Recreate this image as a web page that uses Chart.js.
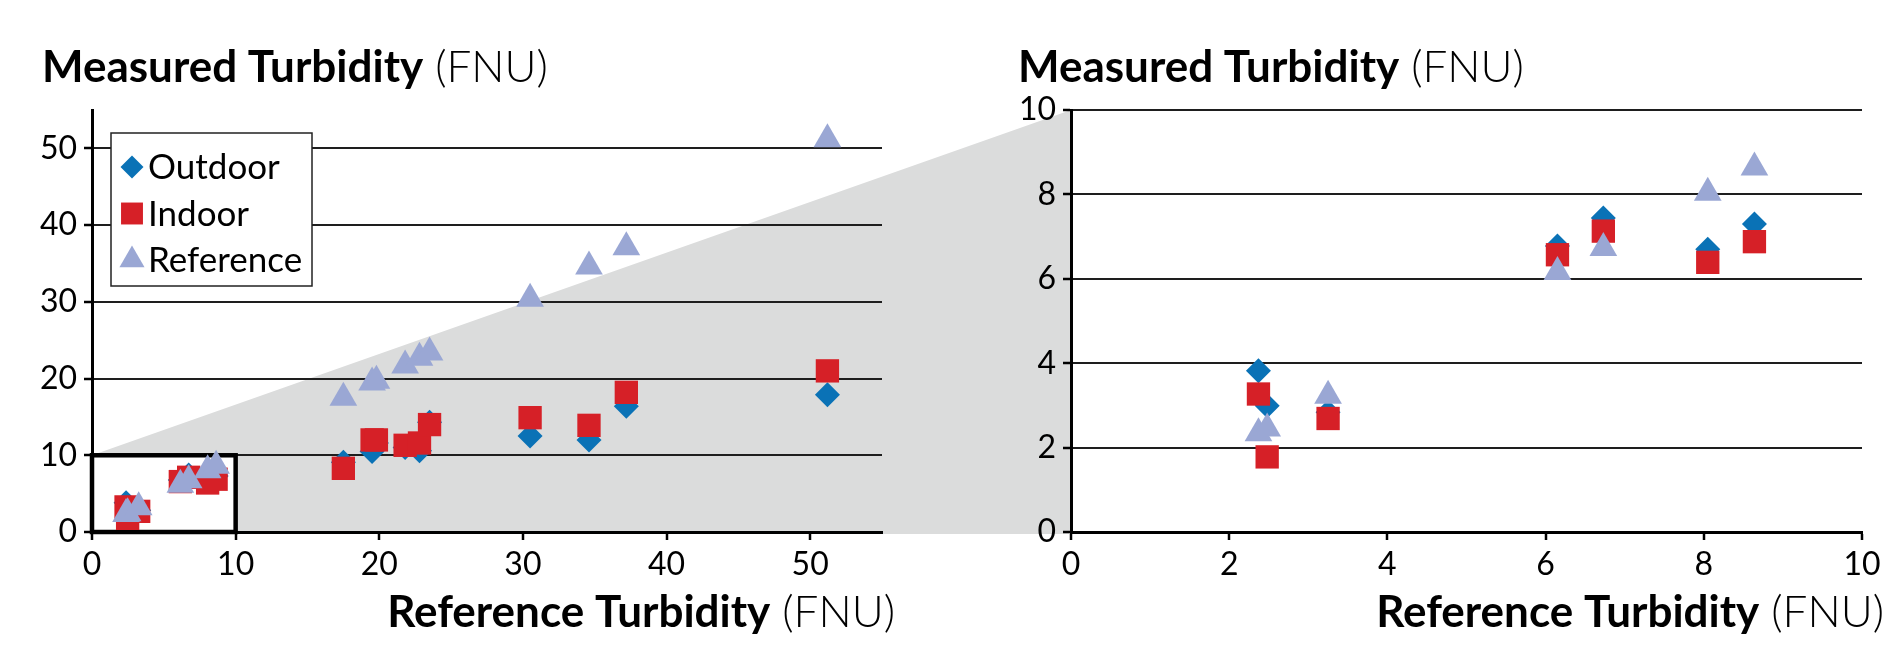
<!DOCTYPE html>
<html>
<head>
<meta charset="utf-8">
<title>Measured vs Reference Turbidity</title>
<script src="https://cdn.jsdelivr.net/npm/chart.js@4.4.1/dist/chart.umd.min.js"></script>
<style>
  html, body { margin: 0; padding: 0; background: #fff; }
  #wrap { position: relative; width: 1888px; height: 649px; overflow: hidden; }
  #wrap canvas { position: absolute; top: 0; }
  #leftChart { left: 0; }
  #rightChart { left: 960px; }
</style>
</head>
<body>
<div id="wrap">
  <canvas id="leftChart" width="1090" height="649"></canvas>
  <canvas id="rightChart" width="928" height="649"></canvas>
</div>
<script>
// reference turbidity of each sample (FNU) - x values
var refTurbidity = [2.37, 2.48, 3.25, 6.15, 6.73, 8.05, 8.64, 17.5, 19.5, 19.8, 21.8, 22.8, 23.5, 30.5, 34.6, 37.2, 51.2];
// measured turbidity per sensor (FNU)
var outdoorValues = [3.82, 2.99, 2.84, 6.78, 7.44, 6.70, 7.30, 9.1, 10.5, 11.6, 11.0, 10.6, 14.3, 12.5, 12.0, 16.4, 17.9];
var indoorValues = [3.27, 1.78, 2.69, 6.57, 7.13, 6.39, 6.88, 8.3, 12.0, 12.0, 11.3, 11.6, 14.0, 14.9, 13.9, 18.2, 21.0];
var referenceValues = [2.34, 2.45, 3.23, 6.16, 6.73, 8.04, 8.64, 17.5, 19.5, 19.7, 21.7, 22.7, 23.4, 30.4, 34.6, 37.1, 51.2];

var seriesNames = ['Outdoor', 'Indoor', 'Reference'];
var leftTicks = [0, 10, 20, 30, 40, 50];
var rightTicks = [0, 2, 4, 6, 8, 10];
var leftMax = 55;
var zoomMax = 10;

var yTitle = ['Measured Turbidity', ' (FNU)'];
var xTitle = ['Reference Turbidity', ' (FNU)'];

var FONT = 'Lato';
var TITLE_SIZE = 44;

function toPoints(values) {
    return values.map(function (v, i) {
        return { x: refTurbidity[i], y: v };
    });
}

function makeDatasets() {
    return [{
        label: seriesNames[0],
        data: toPoints(outdoorValues),
        pointStyle: 'rectRot',
        pointRadius: 12.5,
        backgroundColor: '#0a72b6',
        order: 3
    }, {
        label: seriesNames[1],
        data: toPoints(indoorValues),
        pointStyle: 'rect',
        pointRadius: 16.5,
        backgroundColor: '#d62027',
        order: 2
    }, {
        label: seriesNames[2],
        data: toPoints(referenceValues),
        pointStyle: 'triangle',
        pointRadius: 16,
        backgroundColor: '#9aa7d4',
        order: 1
    }].map(function (ds) {
        ds.borderWidth = 0;
        ds.pointBorderWidth = 0;
        ds.pointHoverRadius = ds.pointRadius;
        ds.showLine = false;
        return ds;
    });
}

function axis(max, tickList, withGrid, size, isY) {
    return {
        type: 'linear',
        min: 0,
        max: max,
        border: { display: true, color: '#000', width: 3 },
        grid: {
            drawOnChartArea: withGrid,
            color: '#1e1e1e',
            lineWidth: 2,
            tickLength: 8,
            tickColor: '#000',
            tickWidth: 2.5
        },
        ticks: {
            color: '#000',
            font: { family: FONT, size: 32 },
            padding: isY ? 7 : 5,
            maxRotation: 0
        },
        afterBuildTicks: function (scale) {
            scale.ticks = tickList.map(function (v) { return { value: v }; });
        },
        afterFit: function (scale) {
            if (isY) scale.width = size; else scale.height = size;
        }
    };
}

function drawTwoPart(ctx, parts, x, y, align) {
    ctx.font = 'bold ' + TITLE_SIZE + 'px ' + FONT;
    var w1 = ctx.measureText(parts[0]).width;
    ctx.font = '300 ' + TITLE_SIZE + 'px ' + FONT;
    var w2 = ctx.measureText(parts[1]).width;
    var start = align === 'right' ? x - w1 - w2 : x;
    ctx.textAlign = 'left';
    ctx.textBaseline = 'alphabetic';
    ctx.fillStyle = '#000';
    ctx.font = 'bold ' + TITLE_SIZE + 'px ' + FONT;
    ctx.fillText(parts[0], start, y);
    ctx.font = '300 ' + TITLE_SIZE + 'px ' + FONT;
    ctx.fillText(parts[1], start + w1, y);
}

var titlesPlugin = {
    id: 'axisTitles',
    afterDraw: function (chart, args, opts) {
        var ctx = chart.ctx;
        var area = chart.chartArea;
        ctx.save();
        drawTwoPart(ctx, yTitle, area.left + opts.yDx, area.top - 28, 'left');
        drawTwoPart(ctx, xTitle, area.right + opts.xDx, 627, 'right');
        ctx.restore();
    }
};

// fallback in case helpers are not exposed
function drawMarker(ctx, style, r, x, y) {
    if (Chart.helpers && Chart.helpers.drawPoint) {
        Chart.helpers.drawPoint(ctx, { pointStyle: style, radius: r, rotation: 0, borderWidth: 0 }, x, y);
        return;
    }
    ctx.beginPath();
    if (style === 'rect') {
        var s = r * Math.SQRT1_2;
        ctx.rect(x - s, y - s, 2 * s, 2 * s);
    } else if (style === 'rectRot') {
        ctx.moveTo(x, y - r); ctx.lineTo(x + r, y); ctx.lineTo(x, y + r); ctx.lineTo(x - r, y);
    } else {
        ctx.moveTo(x, y - r);
        ctx.lineTo(x + r * 0.866, y + r / 2);
        ctx.lineTo(x - r * 0.866, y + r / 2);
    }
    ctx.closePath();
    ctx.fill();
}

var legendPlugin = {
    id: 'boxLegend',
    afterDraw: function (chart) {
        var ctx = chart.ctx;
        var area = chart.chartArea;
        var left = area.left + 19, top = area.top + 23;
        var radii = [11.5, 15.5, 14.5];
        ctx.save();
        ctx.fillStyle = '#fff';
        ctx.strokeStyle = '#222';
        ctx.lineWidth = 1.5;
        ctx.fillRect(left, top, 201, 153);
        ctx.strokeRect(left, top, 201, 153);
        chart.data.datasets.forEach(function (ds, i) {
            var cy = top + 34 + i * 46.5;
            ctx.fillStyle = ds.backgroundColor;
            drawMarker(ctx, ds.pointStyle, radii[i], left + 21, cy);
            ctx.fillStyle = '#000';
            ctx.font = '35px ' + FONT;
            ctx.textAlign = 'left';
            ctx.textBaseline = 'middle';
            ctx.fillText(ds.label, left + 37, cy + 1);
        });
        ctx.restore();
    }
};

document.addEventListener('DOMContentLoaded', function () {
    var leftCanvas = document.getElementById('leftChart');
    var rightCanvas = document.getElementById('rightChart');

    // zoomed 0-10 panel
    var rightChart = new Chart(rightCanvas, {
        type: 'scatter',
        data: { datasets: makeDatasets() },
        options: {
            responsive: false,
            animation: false,
            events: [],
            layout: { padding: { left: 0, top: 110, right: 26, bottom: 57 } },
            scales: {
                x: axis(zoomMax, rightTicks, false, 60, false),
                y: axis(zoomMax, rightTicks, true, 111, true)
            },
            plugins: {
                legend: { display: false },
                tooltip: { enabled: false },
                axisTitles: { yDx: -53, xDx: 22 }
            }
        },
        plugins: [titlesPlugin]
    });

    // shaded wedge from the 0-10 box to the zoomed panel, plus the box
    var zoomPlugin = {
        id: 'zoomWedge',
        beforeDraw: function (chart) {
            var ctx = chart.ctx;
            var xs = chart.scales.x, ys = chart.scales.y;
            var ra = rightChart.chartArea;
            var off = rightCanvas.offsetLeft - leftCanvas.offsetLeft;
            ctx.save();
            ctx.fillStyle = '#dbdcdc';
            ctx.beginPath();
            ctx.moveTo(xs.getPixelForValue(0), ys.getPixelForValue(zoomMax));
            ctx.lineTo(off + ra.left, ra.top);
            ctx.lineTo(off + ra.left, ra.bottom + 2);
            ctx.lineTo(xs.getPixelForValue(zoomMax), ys.getPixelForValue(0) + 2);
            ctx.lineTo(xs.getPixelForValue(zoomMax), ys.getPixelForValue(zoomMax));
            ctx.closePath();
            ctx.fill();
            ctx.restore();
        },
        beforeDatasetsDraw: function (chart) {
            var ctx = chart.ctx;
            var xs = chart.scales.x, ys = chart.scales.y;
            var x0 = xs.getPixelForValue(0), x1 = xs.getPixelForValue(zoomMax);
            var y0 = ys.getPixelForValue(0), y1 = ys.getPixelForValue(zoomMax);
            ctx.save();
            ctx.strokeStyle = '#000';
            ctx.lineWidth = 4.5;
            ctx.strokeRect(x0, y1, x1 - x0, y0 - y1);
            ctx.restore();
        }
    };

    var leftChart = new Chart(leftCanvas, {
        type: 'scatter',
        data: { datasets: makeDatasets() },
        options: {
            responsive: false,
            animation: false,
            events: [],
            layout: { padding: { left: 0, top: 110, right: 208, bottom: 57 } },
            scales: {
                x: axis(leftMax, leftTicks, false, 60, false),
                y: axis(leftMax, leftTicks, true, 92, true)
            },
            plugins: {
                legend: { display: false },
                tooltip: { enabled: false },
                axisTitles: { yDx: -50, xDx: 13 }
            }
        },
        plugins: [zoomPlugin, titlesPlugin, legendPlugin]
    });
});
</script>
</body>
</html>
